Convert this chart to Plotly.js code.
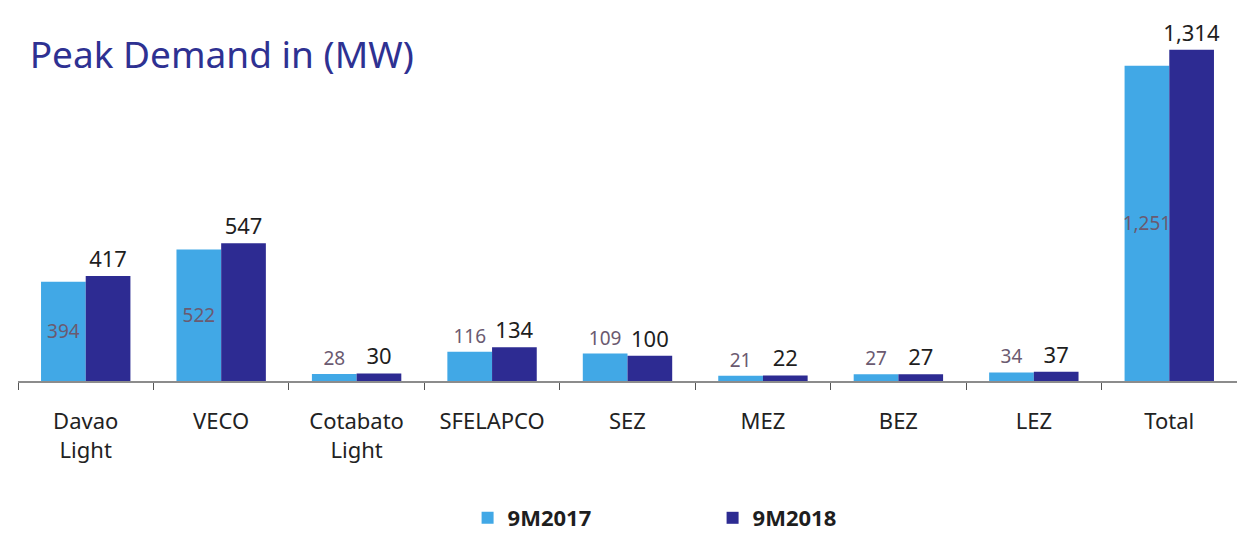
<!DOCTYPE html>
<html>
<head>
<meta charset="utf-8">
<script src="https://cdn.plot.ly/plotly-3.0.1.min.js"></script>
<style>html,body{margin:0;padding:0;background:#fff;}#chart{width:1237px;height:535px;}</style>
</head>
<body>
<div id="chart"></div>
<script>
const categories = ["Davao<br>Light", "VECO", "Cotabato<br>Light", "SFELAPCO", "SEZ", "MEZ", "BEZ", "LEZ", "Total"];
const values2017 = [394, 522, 28, 116, 109, 21, 27, 34, 1251];
const values2018 = [417, 547, 30, 134, 100, 22, 27, 37, 1314];
const labels2017 = ["394", "522", "28", "116", "109", "21", "27", "34", "1,251"];
const labels2018 = ["417", "547", "30", "134", "100", "22", "27", "37", "1,314"];
const seriesNames = ["9M2017", "9M2018"];

const pos2017 = values2017.map(v => v > 300 ? "inside" : "outside");

const traces = [
  {
    type: "bar", name: seriesNames[0], x: categories, y: values2017,
    marker: {color: "#41A8E6"},
    text: labels2017, textposition: pos2017, insidetextanchor: "middle",
    textangle: 0, constraintext: "none", cliponaxis: false,
    textfont: {family: "Noto Sans", size: 19, color: "#6b5a70"},
    hoverinfo: "x+y"
  },
  {
    type: "bar", name: seriesNames[1], x: categories, y: values2018,
    marker: {color: "#2D2B92"},
    text: labels2018, textposition: "outside",
    textangle: 0, constraintext: "none", cliponaxis: false,
    textfont: {family: "Noto Sans", size: 22, color: "#1e1e1e"},
    hoverinfo: "x+y"
  }
];

const layout = {
  width: 1237, height: 535,
  margin: {l: 18, r: 0, t: 40, b: 154},
  paper_bgcolor: "#ffffff", plot_bgcolor: "#ffffff",
  barmode: "group", bargap: 0.34, bargroupgap: 0,
  title: {
    text: "Peak Demand in (MW)",
    font: {family: "Noto Sans", size: 37, color: "#2E3192"},
    xref: "container", x: 0.024, xanchor: "left",
    yref: "container", y: 1 - 55/535, yanchor: "middle"
  },
  xaxis: {
    type: "category",
    showline: true, linecolor: "#8c8c8c", linewidth: 2,
    ticks: "outside", tickson: "boundaries", ticklen: 7, tickcolor: "#555",
    ticklabelstandoff: 20,
    tickfont: {family: "Noto Sans", size: 22, color: "#222"},
    showgrid: false, zeroline: false
  },
  yaxis: {
    range: [0, 1353], visible: false, showgrid: false, zeroline: false
  },
  showlegend: true,
  legend: {
    orientation: "h",
    xref: "container", x: 0.378, xanchor: "left",
    yref: "container", y: 1 - 518/535, yanchor: "middle",
    font: {family: "Noto Sans", size: 22, color: "#1e1e1e", weight: "bold"},
    entrywidth: 200, itemwidth: 20, itemsizing: "constant"
  }
};

Plotly.newPlot("chart", traces, layout, {displayModeBar: false, staticPlot: true});
</script>
</body>
</html>
